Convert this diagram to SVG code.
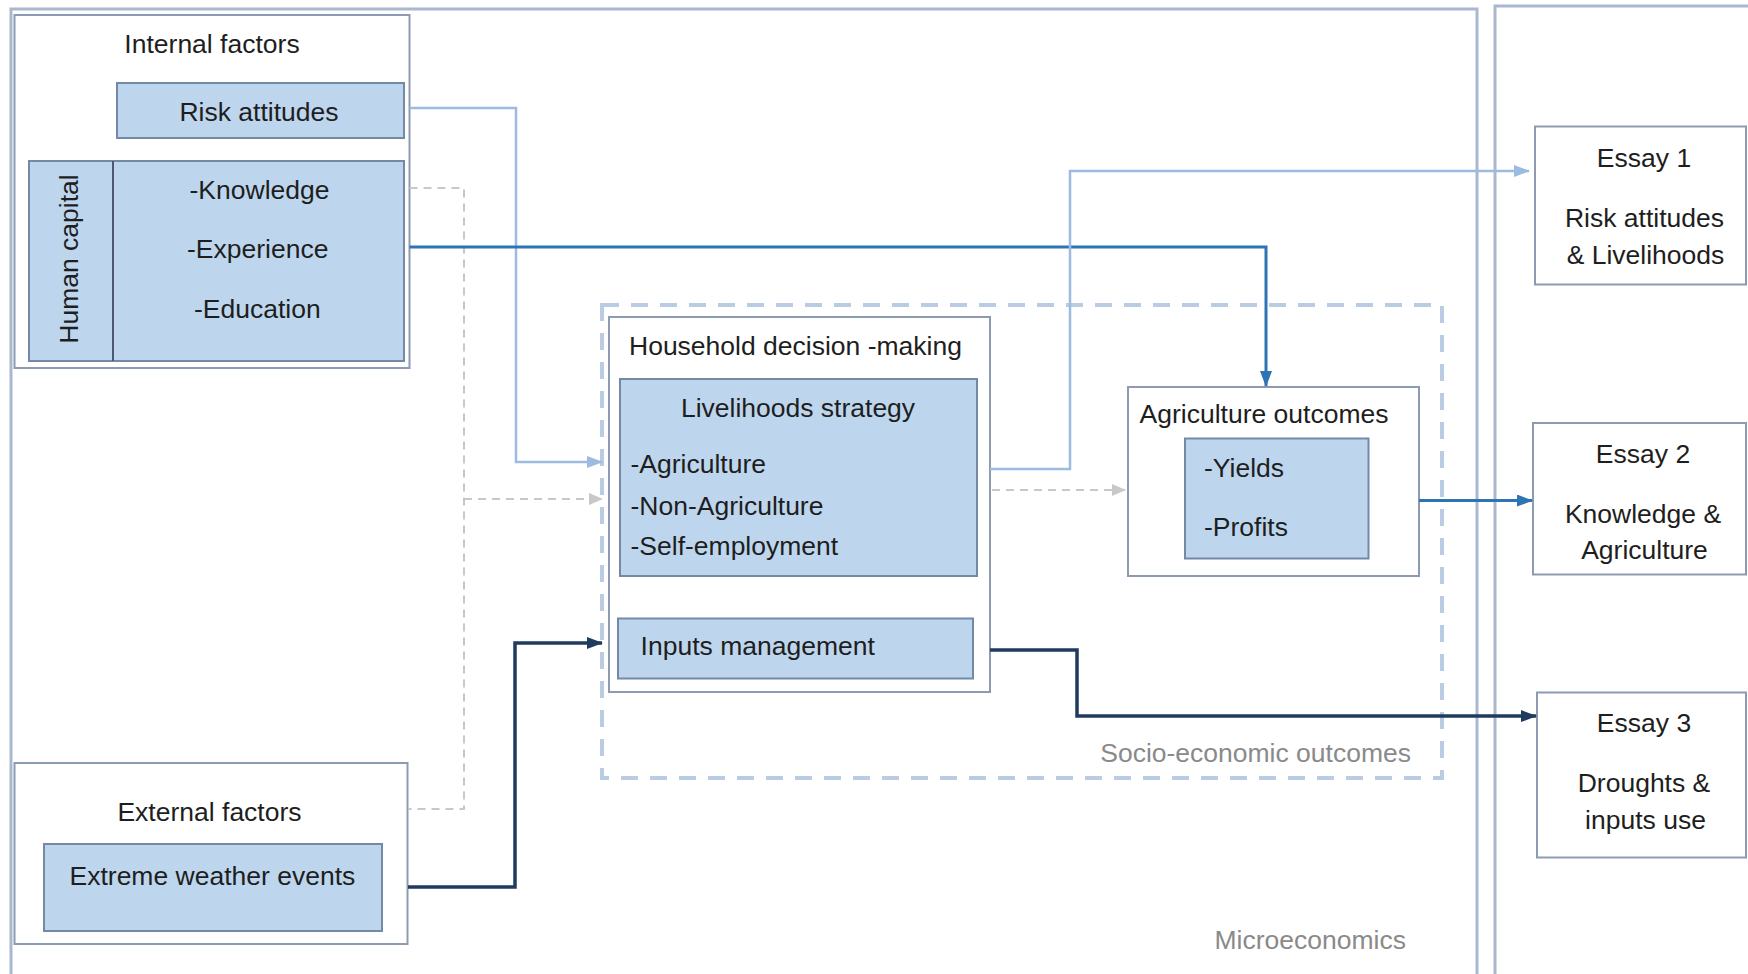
<svg xmlns="http://www.w3.org/2000/svg" width="1748" height="974" viewBox="0 0 1748 974">
<style>
text{font-family:"Liberation Sans",Arial,sans-serif;font-size:26.5px;fill:#1e1e1e}
.c{text-anchor:middle}
.e{text-anchor:end}
.grey{fill:#8a8a8a}
.frame{fill:none;stroke:#a9b8cd;stroke-width:3}
.wbox{fill:#ffffff;stroke:#8c9bb2;stroke-width:2}
.bbox{fill:#bdd6ee;stroke:#7489a6;stroke-width:2}
.dashbox{fill:none;stroke:#b9cce3;stroke-width:4;stroke-dasharray:17 12}
.light{fill:none;stroke:#9dbbe0;stroke-width:2.5}
.mid{fill:none;stroke:#2e74b5;stroke-width:3}
.navy{fill:none;stroke:#1f3c5e;stroke-width:3.5}
.gdash{fill:none;stroke:#c8c8c8;stroke-width:2;stroke-dasharray:8 6}
</style>
<defs>
<marker id="aLight" markerWidth="16" markerHeight="12" refX="15" refY="6" orient="auto" markerUnits="userSpaceOnUse"><path d="M0,0 L16,6 L0,12 z" fill="#9dbbe0"/></marker>
<marker id="aMid" markerWidth="16" markerHeight="12" refX="15" refY="6" orient="auto" markerUnits="userSpaceOnUse"><path d="M0,0 L16,6 L0,12 z" fill="#2e74b5"/></marker>
<marker id="aNavy" markerWidth="16" markerHeight="12" refX="15" refY="6" orient="auto" markerUnits="userSpaceOnUse"><path d="M0,0 L16,6 L0,12 z" fill="#1f3c5e"/></marker>
<marker id="aGrey" markerWidth="14" markerHeight="12" refX="13" refY="6" orient="auto" markerUnits="userSpaceOnUse"><path d="M0,0 L14,6 L0,12 z" fill="#c8c8c8"/></marker>
</defs>
<rect width="1748" height="974" fill="#ffffff"/>

<g id="microeconomics">
<rect class="frame" x="11" y="9" width="1466" height="990"/>
<text class="grey e" x="1406" y="949">Microeconomics</text>
</g>
<g id="essays-frame">
<rect class="frame" x="1495" y="6" width="270" height="990"/>
</g>

<g id="socio-economic-outcomes">
<rect class="dashbox" x="602" y="305" width="840" height="473"/>
<text class="grey e" x="1411" y="762">Socio-economic outcomes</text>
</g>

<g id="internal-factors">
<rect class="wbox" x="14.5" y="15" width="395" height="353"/>
<text class="c" x="212" y="53">Internal factors</text>
</g>
<g id="risk-attitudes">
<rect class="bbox" x="117" y="83" width="287" height="55"/>
<text class="c" x="259" y="120.5">Risk attitudes</text>
</g>
<g id="human-capital">
<rect class="bbox" x="29" y="161" width="375" height="200"/>
<line x1="113" y1="161" x2="113" y2="361" stroke="#4b5a70" stroke-width="2"/>
<text class="c" transform="translate(78,259) rotate(-90)">Human capital</text>
<text class="c" x="259.5" y="199">-Knowledge</text>
<text class="c" x="257.7" y="258">-Experience</text>
<text class="c" x="257.3" y="318">-Education</text>
</g>

<g id="external-factors">
<rect class="wbox" x="14.5" y="763" width="393" height="181"/>
<text class="c" x="209.5" y="821">External factors</text>
</g>
<g id="extreme-weather-events">
<rect class="bbox" x="44" y="844" width="338" height="87"/>
<text class="c" x="212.4" y="885">Extreme weather events</text>
</g>

<g id="household-decision-making">
<rect class="wbox" x="609" y="317" width="381" height="375"/>
<text x="629" y="355">Household decision -making</text>
</g>
<g id="livelihoods-strategy">
<rect class="bbox" x="620" y="379" width="357" height="197"/>
<text class="c" x="798" y="416.7">Livelihoods strategy</text>
<text x="630.5" y="473">-Agriculture</text>
<text x="630.5" y="515">-Non-Agriculture</text>
<text x="630.5" y="555">-Self-employment</text>
</g>
<g id="inputs-management">
<rect class="bbox" x="618" y="618.5" width="355" height="60"/>
<text x="640.6" y="655">Inputs management</text>
</g>

<g id="agriculture-outcomes">
<rect class="wbox" x="1128" y="387" width="291" height="189"/>
<text class="c" x="1264" y="423">Agriculture outcomes</text>
<rect class="bbox" x="1185" y="438.5" width="183.5" height="120"/>
<text x="1204" y="476.7">-Yields</text>
<text x="1204" y="536">-Profits</text>
</g>

<g id="essay-1">
<rect class="wbox" x="1535" y="126.5" width="211" height="158"/>
<text class="c" x="1644" y="166.5">Essay 1</text>
<text class="c" x="1644.5" y="226.7">Risk attitudes</text>
<text class="c" x="1645.5" y="264">&amp; Livelihoods</text>
</g>
<g id="essay-2">
<rect class="wbox" x="1533" y="423" width="213" height="151.5"/>
<text class="c" x="1643" y="462.7">Essay 2</text>
<text class="c" x="1643" y="523">Knowledge &amp;</text>
<text class="c" x="1644.5" y="559">Agriculture</text>
</g>
<g id="essay-3">
<rect class="wbox" x="1537" y="692.5" width="209" height="165"/>
<text class="c" x="1644" y="731.7">Essay 3</text>
<text class="c" x="1644" y="792">Droughts &amp;</text>
<text class="c" x="1645.5" y="829">inputs use</text>
</g>

<g id="connectors">
<path class="light" d="M409.5,108 H516 V462 H602" marker-end="url(#aLight)"/>
<path class="gdash" d="M409.5,188 H464 V809 H408"/>
<path class="gdash" d="M464,499 H602" marker-end="url(#aGrey)"/>
<path class="mid" d="M409.5,247 H1266 V386" marker-end="url(#aMid)"/>
<path class="light" d="M990,469 H1070 V171 H1529" marker-end="url(#aLight)"/>
<path class="gdash" d="M992,490 H1125" marker-end="url(#aGrey)"/>
<path class="mid" d="M1419,500.5 H1532" marker-end="url(#aMid)"/>
<path class="navy" d="M408,887 H515 V643 H602" marker-end="url(#aNavy)"/>
<path class="navy" d="M990,650 H1077 V716 H1536" marker-end="url(#aNavy)"/>
</g>
</svg>
